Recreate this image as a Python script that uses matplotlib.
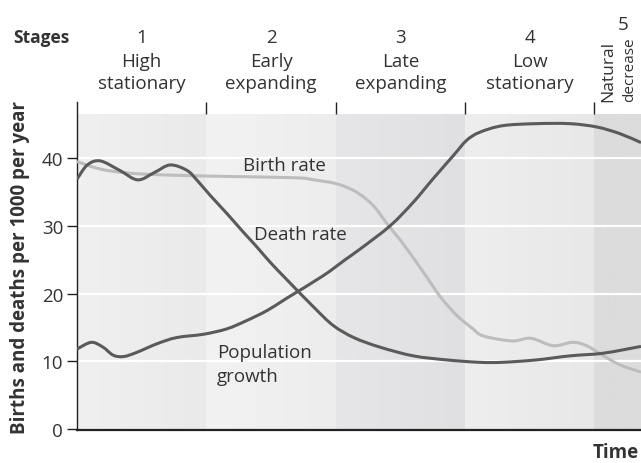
import numpy as np
import matplotlib
matplotlib.use("Agg")
import matplotlib.pyplot as plt
from matplotlib.colors import to_rgb
from matplotlib.path import Path
from matplotlib.patches import PathPatch
from matplotlib.transforms import blended_transform_factory

plt.rcParams["font.family"] = ["Open Sans", "DejaVu Sans"]

# stage headers
stage_nums = ["1", "2", "3", "4"]
stage_names = [("High", "stationary"), ("Early", "expanding"),
               ("Late", "expanding"), ("Low", "stationary")]

# curves, x in stage units (0 = start of stage 1)
birth_x = [0.00, 0.18, 0.40, 0.72, 1.18, 1.70, 1.83, 2.01, 2.16, 2.29, 2.39,
           2.49, 2.55, 2.68, 2.81, 2.94, 3.06, 3.11, 3.19, 3.37, 3.51, 3.68,
           3.83, 3.94, 4.07, 4.20, 4.36]
birth_y = [39.5, 38.4, 37.8, 37.5, 37.3, 37.1, 36.8, 36.2, 35.0, 33.0, 30.5,
           28.1, 26.6, 23.1, 19.5, 16.7, 14.8, 14.0, 13.5, 13.0, 13.4, 12.3,
           12.8, 12.3, 10.8, 9.45, 8.4]

death_x = [0.00, 0.08, 0.18, 0.33, 0.47, 0.60, 0.72, 0.85, 0.93, 1.03, 1.16,
           1.28, 1.39, 1.49, 1.63, 1.83, 1.98, 2.14, 2.34, 2.60, 2.86,
           3.11, 3.29, 3.55, 3.81, 4.07, 4.36]
death_y = [36.9, 39.0, 39.6, 38.2, 36.8, 37.9, 39.0, 38.2, 36.7, 34.5, 31.8,
           29.2, 26.9, 24.7, 21.9, 18.0, 15.3, 13.5, 12.1, 10.8, 10.2,
           9.85, 9.85, 10.2, 10.8, 11.2, 12.2]

pop_x = [0.00, 0.11, 0.20, 0.28, 0.36, 0.46, 0.62, 0.77, 0.98, 1.16, 1.31,
         1.47, 1.62, 1.90, 2.08, 2.19, 2.42, 2.60, 2.75, 2.91, 3.01,
         3.11, 3.29, 3.55, 3.81, 4.02, 4.20, 4.36]
pop_y = [11.8, 12.8, 12.1, 10.9, 10.7, 11.3, 12.6, 13.5, 14.0, 14.8, 16.0,
         17.5, 19.3, 22.6, 25.1, 26.6, 30.0, 33.5, 36.9, 40.4, 42.6,
         43.8, 44.8, 45.1, 45.1, 44.6, 43.6, 42.3]

# band shading per stage (left colour, right colour)
band_cols = [("#f0f0f1", "#eaeaeb"), ("#f2f2f3", "#ededee"),
             ("#e6e6e8", "#e0e0e2"), ("#eeeeef", "#e8e8e9"),
             ("#dcdcdd", "#dcdcdd")]

text_col = "#333333"
dark = "#5a5a5a"
light = "#bdbdbd"


def smooth_path(xs, ys):
    # bezier path through the points (catmull-rom tangents)
    p = np.column_stack([xs, ys]).astype(float)
    pp = np.vstack([p[0], p, p[-1]])
    verts = [p[0]]
    codes = [Path.MOVETO]
    for i in range(len(p) - 1):
        p0, p1, p2, p3 = pp[i], pp[i + 1], pp[i + 2], pp[i + 3]
        verts += [p1 + (p2 - p0) / 6, p2 - (p3 - p1) / 6, p2]
        codes += [Path.CURVE4] * 3
    return Path(verts, codes)


def draw_curve(ax, xs, ys, color, z):
    ax.add_patch(PathPatch(smooth_path(xs, ys), fill=False, edgecolor=color,
                           lw=2.2, zorder=z, capstyle="butt",
                           joinstyle="round"))


fig = plt.figure(figsize=(6.41, 4.64), dpi=100)
ax = fig.add_axes([77 / 641, 33 / 464, 564 / 641, 328 / 464])

ybot, ytop, band_top = -0.15, 48.3, 46.5
xmax = 4.36

for i, (c0, c1) in enumerate(band_cols):
    a, b = np.array(to_rgb(c0)), np.array(to_rgb(c1))
    t = np.linspace(0, 1, 64)[:, None]
    grad = (a * (1 - t) + b * t)[None, :, :]
    ax.imshow(grad, extent=(i, i + 1, ybot, band_top), aspect="auto",
              interpolation="bilinear", zorder=0)

for y in [10, 20, 30, 40]:
    ax.axhline(y, color="white", lw=1.6, zorder=1)

ax.vlines([1, 2, 3, 4], band_top, ytop, color="#222222", lw=1.0, zorder=2,
          clip_on=False)

draw_curve(ax, birth_x, birth_y, light, 3)
draw_curve(ax, death_x, death_y, dark, 4)
draw_curve(ax, pop_x, pop_y, dark, 4)

ax.set_xlim(0, xmax)
ax.set_ylim(ybot, ytop)
ax.set_yticks([0, 10, 20, 30, 40])
ax.set_xticks([])
ax.tick_params(axis="y", direction="out", length=7.5, width=1.0,
               colors="#222222", labelcolor=text_col, labelsize=13.5, pad=2.5)
for s in ["top", "right"]:
    ax.spines[s].set_visible(False)
ax.spines["left"].set_linewidth(1.0)
ax.spines["left"].set_color("#222222")
ax.spines["bottom"].set_linewidth(1.6)
ax.spines["bottom"].set_color("#222222")

ax.set_ylabel("Births and deaths per 1000 per year", fontsize=13.5,
              fontweight="bold", color=text_col, labelpad=8)

# curve labels
lab = dict(fontsize=13.5, color=text_col, va="baseline", ha="left", zorder=5)
ax.text(1.28, 38.3, "Birth rate", **lab)
ax.text(1.37, 28.1, "Death rate", **lab)
ax.text(1.08, 10.7, "Population", **lab)
ax.text(1.08, 7.1, "growth", **lab)

# stage headers above the plot
tr = blended_transform_factory(ax.transData, fig.transFigure)
hdr = dict(fontsize=13.5, color=text_col, ha="center", va="baseline",
           transform=tr)
for i, (num, (l1, l2)) in enumerate(zip(stage_nums, stage_names)):
    fig.text(i + 0.5, 1 - 43 / 464, num, **hdr)
    fig.text(i + 0.5, 1 - 67 / 464, l1, **hdr)
    fig.text(i + 0.5, 1 - 89 / 464, l2, **hdr)
fig.text(13 / 641, 1 - 43 / 464, "Stages", fontsize=12.5, fontweight="bold",
         color=text_col, ha="left", va="baseline")
fig.text(4.22, 1 - 30 / 464, "5", **hdr)
fig.text(4.11, 1 - 102 / 464, "Natural", fontsize=12.5, color=text_col,
         ha="center", va="bottom", rotation=90, transform=tr)
fig.text(4.275, 1 - 102 / 464, "decrease", fontsize=11, color=text_col,
         ha="center", va="bottom", rotation=90, transform=tr)

fig.text(639 / 641, 1 - 458 / 464, "Time", fontsize=13.5, fontweight="bold",
         color=text_col, ha="right", va="baseline")

fig.savefig("out.png", dpi=100)
